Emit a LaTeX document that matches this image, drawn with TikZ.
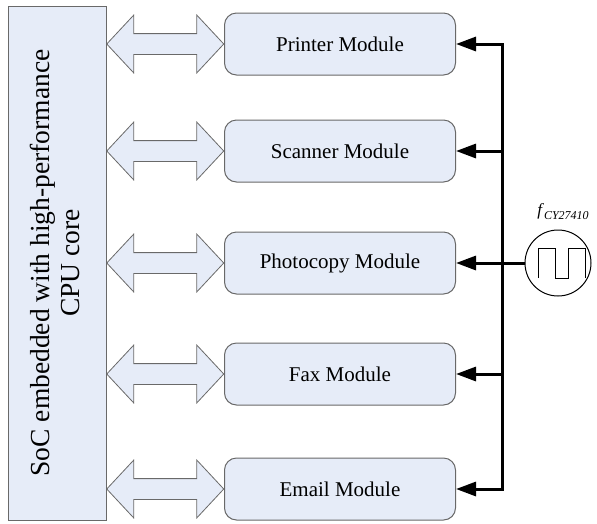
\documentclass[tikz,border=0pt]{standalone}
\usepackage{fontspec}
\setmainfont{Liberation Serif}
\usetikzlibrary{positioning}
\usetikzlibrary{calc}
\usetikzlibrary{shapes.arrows}
\usetikzlibrary{arrows.meta}

\definecolor{boxfill}{RGB}{230,236,248}
\definecolor{boxline}{RGB}{105,105,105}

\tikzset{
  module/.style={draw=boxline, fill=boxfill, line width=1pt, rounded corners=12pt,
    minimum width=231pt, minimum height=62pt, inner sep=0pt,
    font=\fontsize{21}{24}\selectfont},
  bus/.style={draw=boxline, fill=boxfill, line width=0.8pt, shape=double arrow,
    minimum height=117pt, inner sep=0pt, text height=10pt, text depth=10pt,
    double arrow head extend=18.5pt, double arrow tip angle=94},
  clkline/.style={line width=3pt},
}

\begin{document}
\begin{tikzpicture}[x=1pt,y=-1pt]
    \useasboundingbox (0,0) rectangle (597,523);
    \node[draw=boxline, fill=boxfill, line width=1pt, minimum width=98pt, minimum height=514pt,
      inner sep=0pt] (soc) at (57,263) {};
    \node[rotate=90, align=center, font=\fontsize{27.5}{30}\selectfont] at (55,263)
      {SoC embedded with high-performance\\CPU core};

    \node[module] (pm) at (340,44) {Printer Module};
    \node[module] (sm) at (340,151) {Scanner Module};
    \node[module] (cm) at (340,263) {Photocopy Module};
    \node[module] (fm) at (340,374) {Fax Module};
    \node[module] (em) at (340,489) {Email Module};

    % double arrows between the SoC and the modules
    \foreach \m in {pm,sm,cm,fm,em}
      \node[bus] at ($(soc.east |- \m.west)!0.5!(\m.west)$) {};

    % clock source
    \node[draw, circle, line width=1pt, minimum size=66pt, inner sep=0pt] (clk) at (558,263) {};
    \draw[line width=1pt] ($(clk.center)+(-20,15)$) -- ++(0,-30) -- ++(17,0) -- ++(0,30)
      -- ++(13,0) -- ++(0,-30) -- ++(17,0) -- ++(0,30);
    \node[font=\fontsize{17}{20}\selectfont] at (563,212)
      {\textit{f}\raisebox{-4pt}{\fontsize{12}{14}\selectfont\textit{CY27410}}};
    \coordinate (bus) at (502,263);
    \draw[clkline] (clk.west) -- (bus);
    \draw[clkline, line cap=rect] (bus |- pm.east) -- (bus |- em.east);
    \foreach \m in {pm,sm,cm,fm,em}
      \draw[clkline, -{Triangle[length=20pt,width=14pt]}] (bus |- \m.east) -- (\m.east);
  \end{tikzpicture}
\end{document}
